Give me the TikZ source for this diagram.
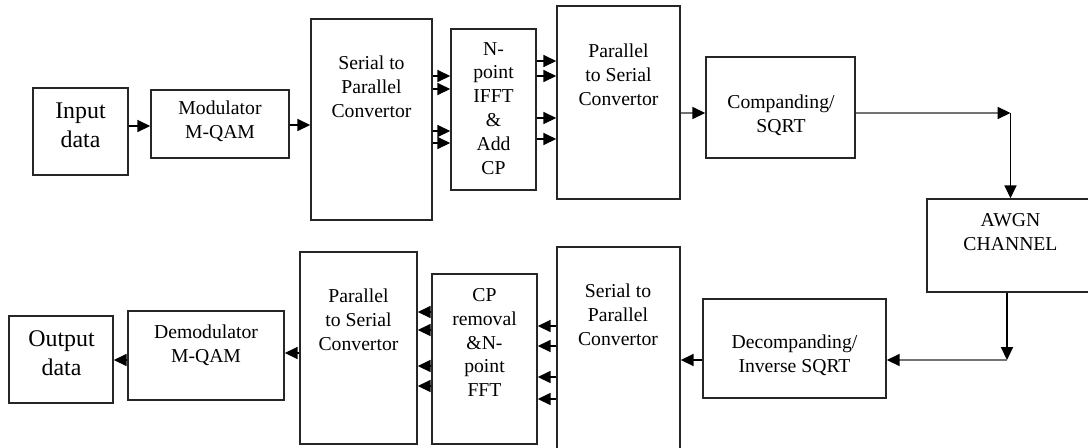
\documentclass[tikz,border=0pt]{standalone}
\usepackage{fontspec}
\setmainfont{Liberation Serif}
\usetikzlibrary{arrows.meta, positioning, fit}

\begin{document}
\begin{tikzpicture}[
    x=0.025cm, y=-0.025cm,
    every node/.style={font=\fontsize{14}{17}\selectfont},
    block/.style={rectangle, draw=black!85, line width=1.1pt, inner sep=0pt},
    caption/.style={align=center, inner sep=0pt},
    bigcaption/.style={caption, font=\fontsize{17}{20.5}\selectfont},
    arrow/.style={line width=0.9pt, -{Triangle[length=3.2mm, width=3mm]}},
    grayarrow/.style={arrow, draw=black!55, -{Triangle[length=3.2mm, width=3mm, color=black]}}
]
\useasboundingbox (0,0) rectangle (1088,448);
% transmitter
\node[block, fit={(33,88) (128,175)}] (input) {};
\node[block, fit={(151,90) (289,158)}] (mod) {};
\node[block, fit={(311,19) (432,220)}] (sp1) {};
\node[block, fit={(451,29) (536,190)}] (ifft) {};
\node[block, fit={(557,6) (680,199)}] (ps1) {};
\node[block, fit={(706,57) (855,158)}] (comp) {};
\node[block, fit={(927,199) (1094,292)}] (awgn) {};
% receiver
\node[block, fit={(703,299) (886,398)}] (decomp) {};
\node[block, fit={(557,247) (680,452)}] (sp2) {};
\node[block, fit={(432,274) (537,444)}] (fft) {};
\node[block, fit={(300,252) (417,444)}] (ps2) {};
\node[block, fit={(128,311) (284,400)}] (demod) {};
\node[block, fit={(9,316) (113,403)}] (output) {};

\node[bigcaption] (input-txt) at (80.5,125) {Input\\data};
\node[caption] (mod-txt) at (220,121.5) {Modulator\\M-QAM};
\node[caption] (sp1-txt) at (371.5,87) {Serial to\\Parallel\\Convertor};
\node[caption] (ifft-txt) at (493.5,108.5) {N-\\point\\IFFT\\\&\\Add\\CP};
\node[caption] (ps1-txt) at (618.5,75) {Parallel\\to Serial\\Convertor};
\node[caption] (comp-txt) at (781,115) {Companding/\\SQRT};
\node[caption] (awgn-txt) at (1010.5,232) {AWGN\\CHANNEL};
\node[caption] (decomp-txt) at (794.5,355) {Decompanding/\\Inverse SQRT};
\node[caption] (sp2-txt) at (618,315) {Serial to\\Parallel\\Convertor};
\node[caption] (fft-txt) at (484.5,342.5) {CP\\removal\\\&N-\\point\\FFT};
\node[caption] (ps2-txt) at (358.5,320) {Parallel\\to Serial\\Convertor};
\node[caption] (demod-txt) at (206,345) {Demodulator\\M-QAM};
\node[bigcaption] (output-txt) at (61.5,353.5) {Output\\data};

\coordinate (c1) at (awgn.north |- 0,113);
\coordinate (c2) at (1007,360);

\draw[arrow] (input.east |- 0,126) -- (mod.west |- 0,126);
\draw[arrow] (mod.east |- 0,125) -- (sp1.west |- 0,125);
\foreach \y in {76,89,131,143}
    \draw[arrow] (sp1.east |- 0,\y) -- (ifft.west |- 0,\y);
\foreach \y in {61,76,118,139}
    \draw[arrow] (ifft.east |- 0,\y) -- (ps1.west |- 0,\y);
\draw[grayarrow] (ps1.east |- 0,113) -- (comp.west |- 0,113);
\draw[grayarrow] (comp.east |- 0,113) -- (c1);
\draw[arrow] (c1) -- (awgn.north);
\draw[arrow] (awgn.south -| c2) -- (c2);
\draw[grayarrow] (c2) -- (decomp.east |- c2);
\draw[arrow] (decomp.west |- 0,360) -- (sp2.east |- 0,360);
\foreach \y in {326,346,377,399}
    \draw[arrow] (sp2.west |- 0,\y) -- (fft.east |- 0,\y);
\foreach \y in {312,330,366,386}
    \draw[arrow] (fft.west |- 0,\y) -- (ps2.east |- 0,\y);
\draw[arrow] (ps2.west |- 0,353) -- (demod.east |- 0,353);
\draw[arrow] (demod.west |- 0,360) -- (output.east |- 0,360);
\end{tikzpicture}
\end{document}
